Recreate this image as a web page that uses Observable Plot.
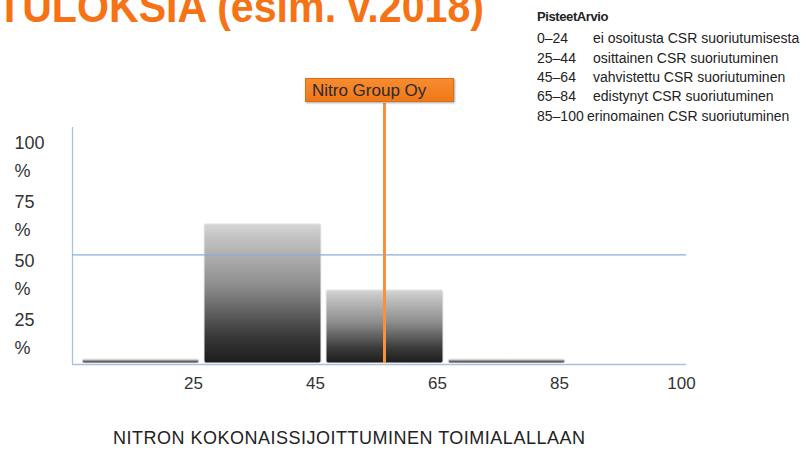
<!DOCTYPE html>
<html><head><meta charset="utf-8">
<script src="https://cdn.jsdelivr.net/npm/d3@7"></script>
<script src="https://cdn.jsdelivr.net/npm/@observablehq/plot@0.6"></script>
<style>
body{margin:0;background:#fff;}
#slide{position:relative;width:806px;height:453px;overflow:hidden;background:#fff;font-family:"Liberation Sans",Arial,sans-serif;color:#222;}
#title{position:absolute;left:-3px;top:-15px;font-family:"Liberation Sans",sans-serif;font-weight:bold;font-size:44px;line-height:44px;color:#f57215;white-space:nowrap;transform:scaleX(0.935);transform-origin:left top;}
#legend{position:absolute;left:537px;top:6px;font-size:14px;color:#222;white-space:nowrap;}
#legend .hdr{font-weight:bold;font-size:13px;letter-spacing:-0.4px;height:23.4px;line-height:22px;}
#legend .row{height:19.3px;line-height:19.3px;}
#legend .rng{display:inline-block;min-width:56px;}
#caption{position:absolute;left:113px;top:427px;font-size:18px;letter-spacing:0.5px;line-height:22px;color:#222;white-space:nowrap;}
#chart{position:absolute;left:0;top:60px;}
#nitro{position:absolute;height:24px;line-height:24px;padding-left:6px;box-sizing:border-box;font-size:17px;color:#2a2a2a;background:linear-gradient(#f78c30,#ef7818);border:1px solid #e06c12;box-shadow:1px 1px 2px rgba(0,0,0,0.35);white-space:nowrap;}
</style></head>
<body>
<div id="slide">
  <div id="title"></div>
  <div id="legend"></div>
  <div id="chart"></div>
  <div id="caption"></div>
</div>
<script>
// ---- data ----
const titleText = "TULOKSIA (esim. v.2018)";
const legendHeader = "PisteetArvio";
const legendRanges = ["0–24", "25–44", "45–64", "65–84", "85–100"];
const legendTexts = ["ei osoitusta CSR suoriutumisesta", "osittainen CSR suoriutuminen", "vahvistettu CSR suoriutuminen", "edistynyt CSR suoriutuminen", "erinomainen  CSR suoriutuminen"];
const binStarts = [0, 25, 45, 65, 85];
const binEnds = [25, 45, 65, 85, 100];
const shares = [1.7, 59, 31, 1.7, 0];          // % of companies per score band
const xTickLabels = ["25", "45", "65", "85", "100"];
const yTicks = [25, 50, 75, 100];
const gridLineValue = 46;                      // horizontal guide line
const nitroName = "Nitro Group Oy";
const nitroScore = 55;
const captionText = "NITRON  KOKONAISSIJOITTUMINEN TOIMIALALLAAN";

// ---- text ----
document.getElementById("title").textContent = titleText;
document.getElementById("caption").textContent = captionText;
const lg = document.getElementById("legend");
const h = document.createElement("div"); h.className = "hdr"; h.textContent = legendHeader; lg.appendChild(h);
legendRanges.forEach((r, i) => {
  const row = document.createElement("div"); row.className = "row";
  const s = document.createElement("span"); s.className = "rng"; s.textContent = r;
  if (i === 4) s.style.minWidth = "50px";
  row.appendChild(s);
  row.appendChild(document.createTextNode(legendTexts[i]));
  lg.appendChild(row);
});

// ---- chart ----
const data = shares.map((v, i) => ({i, share: v}));
const bi = binStarts.findIndex((s, i) => nitroScore >= s && nitroScore < binEnds[i]);
const nitroPos = bi + (nitroScore - binStarts[bi]) / (binEnds[bi] - binStarts[bi]);

const defs = () => {
  const d = d3.create("svg:defs");
  const g = d.append("linearGradient").attr("id", "barGrad").attr("x1", 0).attr("y1", 0).attr("x2", 0).attr("y2", 1);
  [[0, "#d6d6d6"], [0.08, "#c6c6c6"], [0.45, "#8c8c8c"], [0.8, "#3a3a3a"], [1, "#1c1c1c"]].forEach(([o, c]) =>
    g.append("stop").attr("offset", o).attr("stop-color", c));
  return d.node();
};

const axisColor = "#a8c0e2";
const plot = Plot.plot({
  width: 806,
  height: 340,
  marginLeft: 79,
  marginRight: 117,
  marginTop: 67,
  marginBottom: 37,
  style: {fontFamily: "Liberation Sans, Arial, sans-serif", background: "transparent"},
  x: {domain: [0, 5], axis: null},
  y: {domain: [0, 100], axis: null},
  marks: [
    defs,
    Plot.ruleX([0], {dx: -7, stroke: axisColor, strokeWidth: 1.3, insetBottom: -1}),
    Plot.ruleY([0], {dy: 1, stroke: axisColor, strokeWidth: 1.5, insetLeft: -7, insetRight: 3}),
    Plot.rectY(data, {x1: d => d.i, x2: d => d.i + 1, y: "share", fill: "url(#barGrad)", stroke: "#ececec", strokeWidth: 1, insetLeft: 3, insetRight: 2, rx: 2}),
    Plot.ruleY([gridLineValue], {stroke: "#8cadd9", strokeWidth: 1.3, insetLeft: -7, insetRight: 3}),
    Plot.ruleX([nitroPos], {stroke: "#f5923e", strokeWidth: 3, insetTop: -24}),
    Plot.axisX([1, 2, 3, 4, 5], {tickFormat: d => xTickLabels[d - 1], tickSize: 0, tickPadding: 13, fontSize: 17, dx: -8, fill: "#333", anchor: "bottom"}),
    Plot.text(yTicks, {y: d => d, text: d => `${d}\n%`, frameAnchor: "left", textAnchor: "start", dx: -65, lineAnchor: "middle", dy: 27, lineHeight: 1.55, fontSize: 18, fill: "#333"})
  ]
});
document.getElementById("chart").appendChild(plot);

// label box above the Nitro line, positioned with the plot's x scale
const bx = plot.scale("x").apply(nitroPos);
const box = document.createElement("div");
box.id = "nitro";
box.textContent = nitroName;
box.style.width = "149px";
box.style.left = (bx - 79) + "px";
box.style.top = "78px";
document.getElementById("slide").appendChild(box);
</script>
</body></html>
